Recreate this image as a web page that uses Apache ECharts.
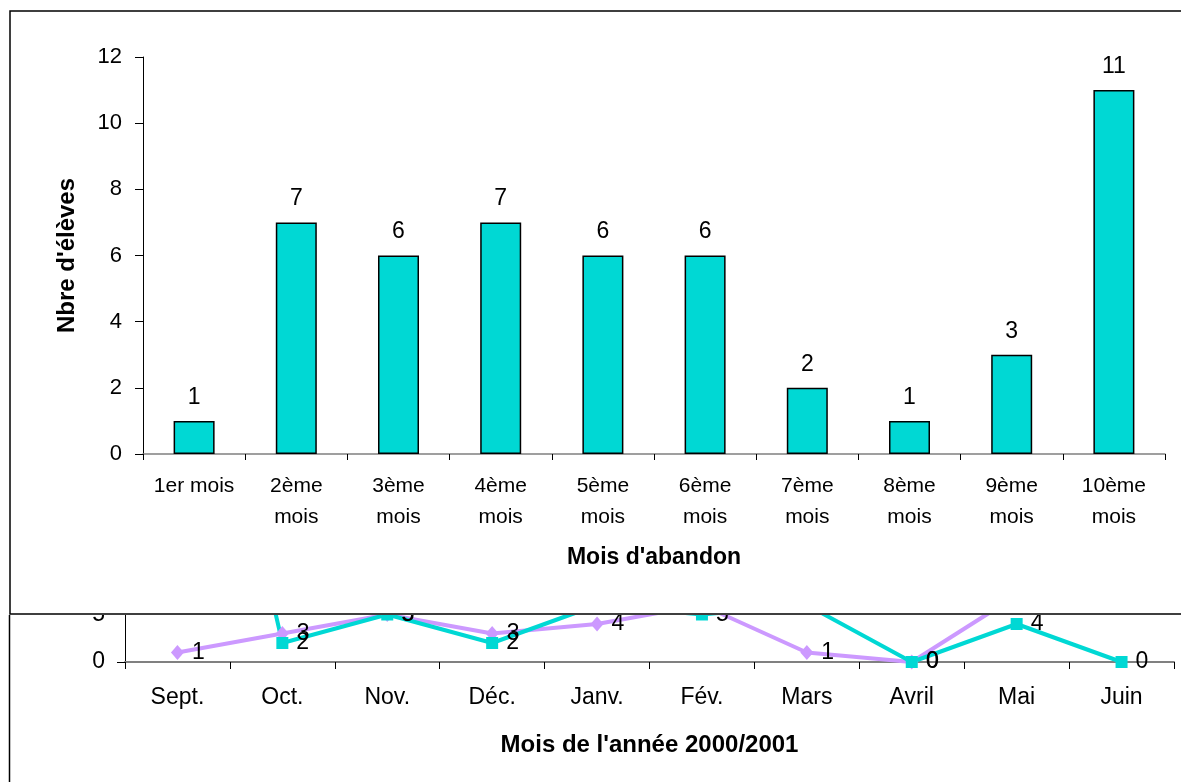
<!DOCTYPE html>
<html>
<head>
<meta charset="utf-8">
<script src="https://cdn.jsdelivr.net/npm/echarts@6/dist/echarts.min.js"></script>
<style>
  html, body { margin: 0; padding: 0; background: #fff; overflow: hidden; }
  .wrap { position: relative; width: 1181px; height: 782px; }
  #lines { position: absolute; left: 0; top: 0; width: 1181px; height: 782px; }
  #bars { position: absolute; left: 0; top: 0; width: 1181px; height: 615px; }
</style>
</head>
<body>
<div class="wrap">
  <div id="lines"></div>
  <div id="bars"></div>
</div>
<script>
// chart du dessus : abandons par mois
const barCategories = ['1er mois', '2ème\nmois', '3ème\nmois', '4ème\nmois', '5ème\nmois',
  '6ème\nmois', '7ème\nmois', '8ème\nmois', '9ème\nmois', '10ème\nmois'];
const barValues = [1, 7, 6, 7, 6, 6, 2, 1, 3, 11];

// chart du dessous (en partie caché)
const monthCategories = ['Sept.', 'Oct.', 'Nov.', 'Déc.', 'Janv.', 'Fév.', 'Mars', 'Avril', 'Mai', 'Juin'];
const purpleValues = [1, 3, 5, 3, 4, 6, 1, 0, 7, 6];
const tealValues = [50, 2, 5, 2, 6, 5, 6, 0, 4, 0];

const FONT = '"Liberation Sans", Arial, sans-serif';
const TEAL = '#00D8D4';
const PURPLE = '#CC99FF';

const lineChart = echarts.init(document.getElementById('lines'));
lineChart.setOption({
  animation: false,
  backgroundColor: '#fff',
  textStyle: { fontFamily: FONT },
  graphic: [{
    type: 'rect',
    shape: { x: 9.5, y: 40, width: 1300, height: 900 },
    style: { fill: 'none', stroke: '#000', lineWidth: 1.5 }
  }],
  grid: { left: 125, right: 7, top: 92, bottom: 120, outerBoundsMode: 'none' },
  xAxis: {
    type: 'category',
    data: monthCategories,
    boundaryGap: true,
    name: "Mois de l'année 2000/2001",
    nameLocation: 'middle',
    nameGap: 71,
    nameTextStyle: { fontFamily: FONT, fontSize: 24, fontWeight: 'bold', color: '#000' },
    axisLine: { lineStyle: { color: '#808080', width: 2 } },
    axisTick: { show: true, length: 7, lineStyle: { color: '#000' } },
    axisLabel: { fontFamily: FONT, fontSize: 23, color: '#000', margin: 24 },
    splitLine: { show: false }
  },
  yAxis: {
    type: 'value',
    min: 0,
    max: 60,
    interval: 5,
    axisLine: { show: true, lineStyle: { color: '#000', width: 1 } },
    axisTick: { show: true, length: 8, lineStyle: { color: '#000' } },
    axisLabel: { fontFamily: FONT, fontSize: 23, color: '#000', margin: 20 },
    splitLine: { show: false }
  },
  series: [
    {
      name: 'Série 1',
      type: 'line',
      data: purpleValues,
      symbol: 'diamond',
      symbolSize: [13, 15],
      lineStyle: { color: PURPLE, width: 4 },
      itemStyle: { color: PURPLE },
      label: { show: true, position: 'right', distance: 8, fontFamily: FONT, fontSize: 23, color: '#000' }
    },
    {
      name: 'Série 2',
      type: 'line',
      data: tealValues,
      symbol: 'rect',
      symbolSize: 12,
      lineStyle: { color: TEAL, width: 4 },
      itemStyle: { color: TEAL },
      label: { show: true, position: 'right', distance: 8, fontFamily: FONT, fontSize: 23, color: '#000' }
    }
  ]
});

const barChart = echarts.init(document.getElementById('bars'));
barChart.setOption({
  animation: false,
  backgroundColor: '#fff',
  textStyle: { fontFamily: FONT },
  graphic: [{
    type: 'rect',
    shape: { x: 10, y: 11, width: 1300, height: 603 },
    style: { fill: 'none', stroke: '#000', lineWidth: 1.5 }
  }],
  grid: { left: 143, right: 16, top: 57, bottom: 161, outerBoundsMode: 'none' },
  xAxis: {
    type: 'category',
    data: barCategories,
    boundaryGap: true,
    name: "Mois d'abandon",
    nameLocation: 'middle',
    nameGap: 92,
    nameTextStyle: { fontFamily: FONT, fontSize: 23, fontWeight: 'bold', color: '#000' },
    axisLine: { lineStyle: { color: '#808080', width: 1.5 } },
    axisTick: { show: true, length: 6, lineStyle: { color: '#000' } },
    axisLabel: { fontFamily: FONT, fontSize: 21, color: '#000', margin: 17, lineHeight: 31, interval: 0 },
    splitLine: { show: false }
  },
  yAxis: {
    type: 'value',
    min: 0,
    max: 12,
    interval: 2,
    name: "Nbre d'élèves",
    nameLocation: 'middle',
    nameGap: 64,
    nameRotate: 90,
    nameTextStyle: { fontFamily: FONT, fontSize: 24, fontWeight: 'bold', color: '#000' },
    axisLine: { show: true, lineStyle: { color: '#000', width: 1 } },
    axisTick: { show: true, length: 8, lineStyle: { color: '#000' } },
    axisLabel: { fontFamily: FONT, fontSize: 22, color: '#000', margin: 21 },
    splitLine: { show: false }
  },
  series: [{
    type: 'bar',
    data: barValues,
    barWidth: 41,
    itemStyle: { color: TEAL, borderColor: '#000', borderWidth: 1.5 },
    label: { show: true, position: 'top', distance: 12, fontFamily: FONT, fontSize: 23, color: '#000' }
  }]
});
</script>
</body>
</html>
